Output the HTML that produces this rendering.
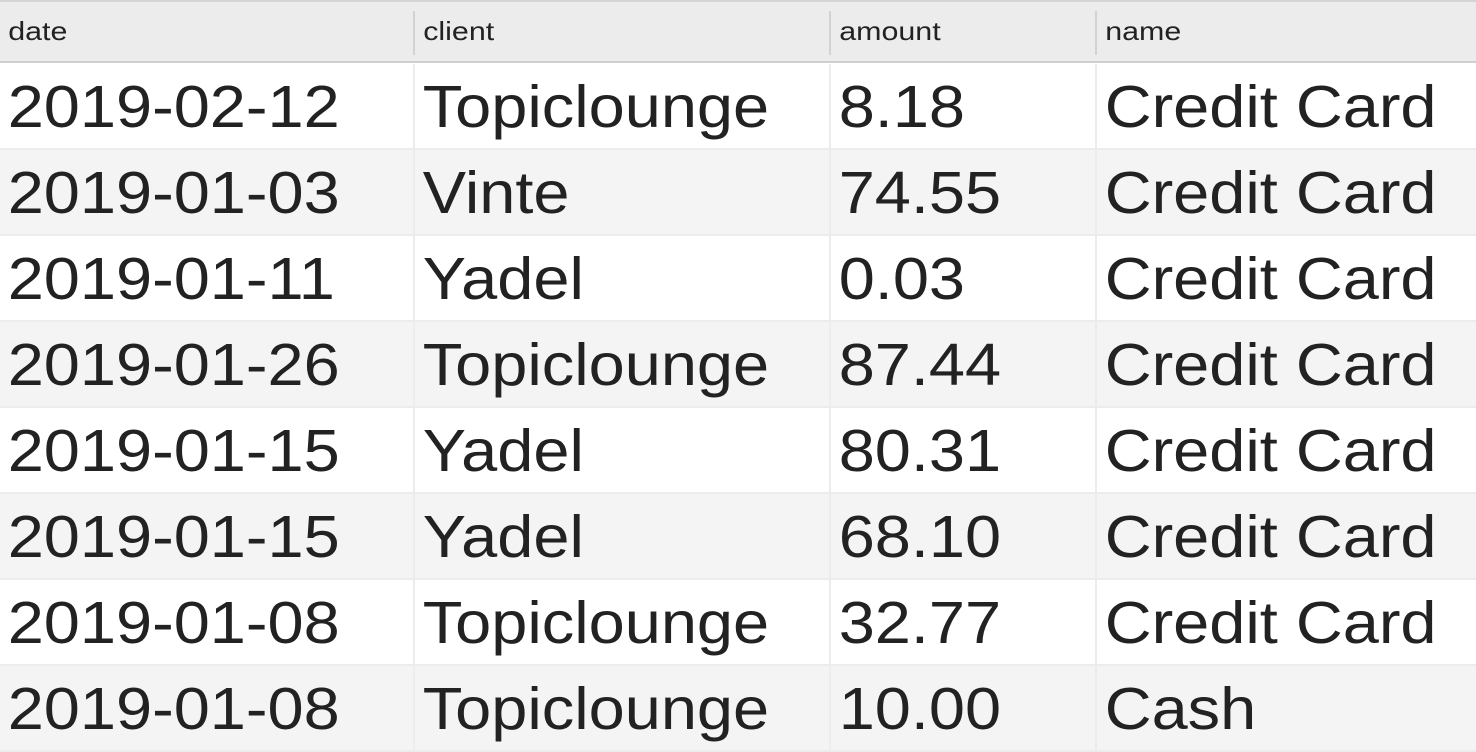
<!DOCTYPE html>
<html><head><meta charset="utf-8"><style>
*{margin:0;padding:0;box-sizing:border-box}
body{width:1476px;height:752px;overflow:hidden;background:#fff;font-family:"Liberation Sans",Arial,sans-serif;color:#222;position:relative}
.hdr{position:absolute;left:0;top:0;width:1476px;height:63px;background:#ececec;border-top:2px solid #d4d4d4;border-bottom:2px solid #cfcfcf}
.hc{position:absolute;top:0;height:59px;line-height:58px;font-size:26px;padding-left:7px;color:#222;transform:scaleX(1.17);transform-origin:0 0}
.hd{position:absolute;top:9px;width:2px;height:44px;background:#d2d2d2}
.row{position:absolute;left:0;width:1476px;height:86px;border-bottom:2px solid #ececec}
.row.alt{background:#f4f4f4}
.c{position:absolute;top:0;height:84px;line-height:86px;font-size:59px;padding-left:7px;white-space:nowrap;color:#222;transform:scaleX(1.1);transform-origin:0 0}
.vd{position:absolute;top:0;width:2px;height:86px;background:#ececec}
</style></head><body>
<div class="hdr">
<div class="hc" style="left:0">date</div>
<div class="hd" style="left:413px"></div>
<div class="hc" style="left:415px">client</div>
<div class="hd" style="left:829px"></div>
<div class="hc" style="left:831px">amount</div>
<div class="hd" style="left:1095px"></div>
<div class="hc" style="left:1097px">name</div>
</div>
<div id="rows"></div>
<script>
const dates=["2019-02-12","2019-01-03","2019-01-11","2019-01-26","2019-01-15","2019-01-15","2019-01-08","2019-01-08"];
const clients=["Topiclounge","Vinte","Yadel","Topiclounge","Yadel","Yadel","Topiclounge","Topiclounge"];
const amounts=["8.18","74.55","0.03","87.44","80.31","68.10","32.77","10.00"];
const names=["Credit Card","Credit Card","Credit Card","Credit Card","Credit Card","Credit Card","Credit Card","Cash"];
const lefts=[0,415,831,1097];
const host=document.getElementById('rows');
for(let i=0;i<dates.length;i++){
  const r=document.createElement('div');
  r.className='row'+(i%2?' alt':'');
  r.style.top=(64+i*86)+'px';
  
  
  const vals=[dates[i],clients[i],amounts[i],names[i]];
  const cn=['date-cell','client-cell','amount-cell','name-cell'];
  for(let j=0;j<4;j++){
    if(j>0){const d=document.createElement('div');d.className='vd';d.style.left=(lefts[j]-2)+'px';
      
      
      r.appendChild(d);}
    const c=document.createElement('div');c.className='c';c.style.left=lefts[j]+'px';c.textContent=vals[j];
    
    
    r.appendChild(c);
  }
  host.appendChild(r);
}
</script>
</body></html>
